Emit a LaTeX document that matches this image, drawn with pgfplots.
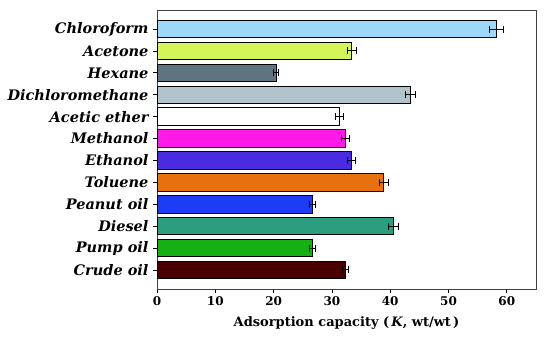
\documentclass[border=0pt]{standalone}
\usepackage{fontspec}
\setmainfont{DejaVu Serif}
\usepackage{pgfplots}
\pgfplotsset{compat=1.18}
\definecolor{cChl}{HTML}{9DD8F8}
\definecolor{cAce}{HTML}{D4F55A}
\definecolor{cHex}{HTML}{5F7480}
\definecolor{cDcm}{HTML}{B3C3CB}
\definecolor{cAet}{HTML}{FFFFFF}
\definecolor{cMet}{HTML}{FF1AE8}
\definecolor{cEth}{HTML}{4B2BE0}
\definecolor{cTol}{HTML}{E8700F}
\definecolor{cPea}{HTML}{1F3CF5}
\definecolor{cDie}{HTML}{2A9E7E}
\definecolor{cPum}{HTML}{14B014}
\definecolor{cCru}{HTML}{4A0000}
\begin{document}
\begin{tikzpicture}
\useasboundingbox (-157pt,-61pt) rectangle (393pt,289pt);
\begin{axis}[
  at={(0pt,0pt)}, anchor=south west,
  scale only axis, width=379pt, height=279pt,
  xbar, bar shift=0pt, bar width=17.5pt,
  xmin=0, xmax=65, ymin=-0.87, ymax=11.87,
  xtick={0,10,20,30,40,50,60},
  ytick={0,...,11},
  yticklabels={Crude oil,Pump oil,Diesel,Peanut oil,Toluene,Ethanol,Methanol,Acetic ether,Dichloromethane,Hexane,Acetone,Chloroform},
  tick align=outside, tick pos=left,
  major tick length=4pt,
  every tick/.style={black, line width=0.8pt},
  axis line style={line width=0.9pt, draw=black!75},
  /pgf/number format/assume math mode=true,
  xticklabel style={font=\fontsize{12}{13}\selectfont\bfseries},
  yticklabel style={font=\fontsize{14.5}{16}\selectfont\bfseries\itshape, xshift=-1pt},
  xlabel={\bfseries Adsorption capacity (\,\textit{K}, wt/wt\,)},
  xlabel style={font=\fontsize{13}{15}\selectfont, yshift=-4pt},
  every axis plot/.append style={draw=black, line width=0.8pt},
  error bars/error bar style={line width=1pt, black},
  error bars/error mark options={rotate=90, mark size=3.5pt, line width=1pt, black},
]
\addplot[fill=cCru, error bars/.cd, x dir=both, x explicit] coordinates {(32.3,0) +- (0.5,0)};
\addplot[fill=cPum, error bars/.cd, x dir=both, x explicit] coordinates {(26.7,1) +- (0.5,0)};
\addplot[fill=cDie, error bars/.cd, x dir=both, x explicit] coordinates {(40.6,2) +- (0.9,0)};
\addplot[fill=cPea, error bars/.cd, x dir=both, x explicit] coordinates {(26.7,3) +- (0.5,0)};
\addplot[fill=cTol, error bars/.cd, x dir=both, x explicit] coordinates {(38.9,4) +- (0.8,0)};
\addplot[fill=cEth, error bars/.cd, x dir=both, x explicit] coordinates {(33.4,5) +- (0.7,0)};
\addplot[fill=cMet, error bars/.cd, x dir=both, x explicit] coordinates {(32.3,6) +- (0.7,0)};
\addplot[fill=cAet, error bars/.cd, x dir=both, x explicit] coordinates {(31.3,7) +- (0.7,0)};
\addplot[fill=cDcm, error bars/.cd, x dir=both, x explicit] coordinates {(43.5,8) +- (0.9,0)};
\addplot[fill=cHex, error bars/.cd, x dir=both, x explicit] coordinates {(20.4,9) +- (0.5,0)};
\addplot[fill=cAce, error bars/.cd, x dir=both, x explicit] coordinates {(33.4,10) +- (0.8,0)};
\addplot[fill=cChl, error bars/.cd, x dir=both, x explicit] coordinates {(58.2,11) +- (1.2,0)};
\end{axis}
\end{tikzpicture}
\end{document}
